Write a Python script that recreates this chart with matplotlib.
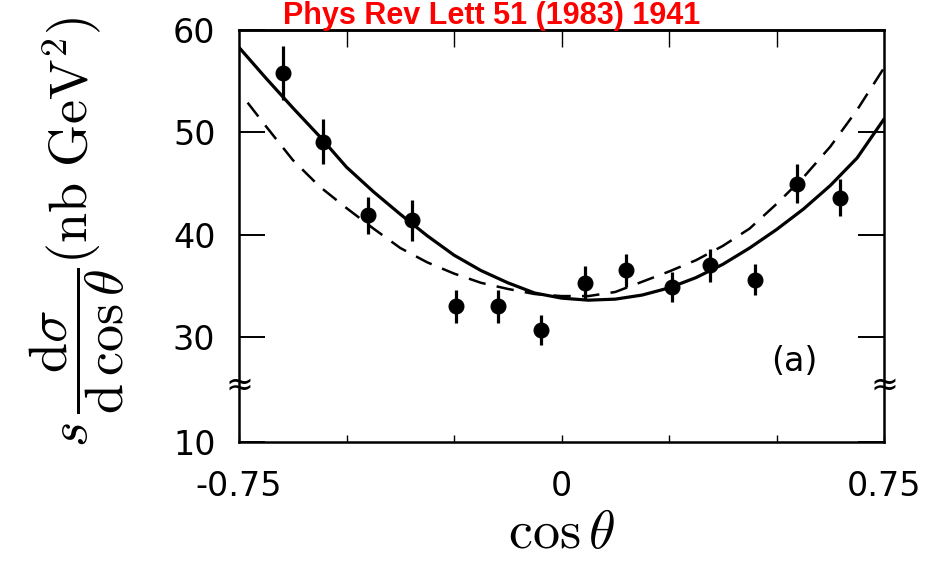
import matplotlib
matplotlib.use("Agg")
import matplotlib.pyplot as plt
from matplotlib.transforms import blended_transform_factory

plt.rcParams['mathtext.fontset'] = 'cm'

# ---- data ----
cos_theta = [-0.648, -0.555, -0.451, -0.347, -0.245, -0.147, -0.048,
             0.055, 0.150, 0.258, 0.346, 0.450, 0.548, 0.648]
xsec = [55.8, 49.1, 41.9, 41.4, 33.0, 33.0, 30.7,
        35.3, 36.5, 34.9, 37.0, 35.6, 45.0, 43.6]
xsec_err = [2.6, 2.2, 1.8, 2.0, 1.6, 1.6, 1.5,
            1.6, 1.6, 1.5, 1.6, 1.5, 1.9, 1.8]

solid_x = [-0.75, -0.6875, -0.625, -0.5625, -0.5, -0.4375, -0.375, -0.3125,
           -0.25, -0.1875, -0.125, -0.0625, 0.0, 0.0625, 0.125, 0.1875,
           0.25, 0.3125, 0.375, 0.4375, 0.5, 0.5625, 0.625, 0.6875, 0.75]
solid_y = [58.3, 55.3, 52.4, 49.6, 46.6, 44.2, 42.0, 39.9,
           38.0, 36.5, 35.3, 34.3, 33.8, 33.6, 33.7, 34.1,
           34.8, 35.8, 37.1, 38.7, 40.5, 42.5, 44.8, 47.5, 51.3]

dashed_x = [-0.73, -0.6875, -0.625, -0.5625, -0.5, -0.4375, -0.375, -0.3125,
            -0.25, -0.1875, -0.125, -0.0625, 0.0, 0.0625, 0.125, 0.1875,
            0.25, 0.3125, 0.375, 0.4375, 0.5, 0.5625, 0.625, 0.6875, 0.75]
dashed_y = [52.9, 50.6, 47.3, 44.7, 42.6, 40.6, 38.7, 37.3,
            36.2, 35.3, 34.7, 34.2, 34.0, 34.0, 34.4, 35.4,
            36.4, 37.5, 38.9, 40.6, 43.0, 45.6, 48.6, 52.2, 56.3]

x_ticks = [-0.75, -0.5, -0.25, 0.0, 0.25, 0.5, 0.75]
x_tick_labels = ["-0.75", "", "", "0", "", "", "0.75"]
y_ticks = [30, 40, 50, 60]
y_tick_labels = ["30", "40", "50", "60"]
y_break_label = "10"
title = "Phys Rev Lett 51 (1983) 1941"
panel = "(a)"

# ---- figure ----
fig = plt.figure(figsize=(9.25, 5.63), dpi=100)
ax = fig.add_axes([0.2584, 0.2149, 0.6973, 0.7318])

ymin, ymax = 19.74, 60.0
ax.set_xlim(-0.75, 0.75)
ax.set_ylim(ymin, ymax)

ax.plot(solid_x, solid_y, color='black', lw=2.3, solid_capstyle='round', zorder=3)
ax.plot(dashed_x, dashed_y, color='black', lw=1.8, dashes=(7, 4.5), zorder=3)
ax.errorbar(cos_theta, xsec, yerr=xsec_err, fmt='o', color='black',
            ms=10.5, elinewidth=2.3, capsize=0, zorder=4)

for s in ax.spines.values():
    s.set_linewidth(1.8)

ax.set_xticks(x_ticks)
ax.set_xticklabels(x_tick_labels)
ax.set_yticks([ymin] + y_ticks)
ax.set_yticklabels([y_break_label] + y_tick_labels)
ax.tick_params(axis='x', direction='in', length=5, width=1.0, pad=20,
               labelsize=24, top=False)
ax.tick_params(axis='y', direction='in', length=19, width=1.4, pad=17,
               labelsize=24, left=True, right=True)

sec = ax.secondary_xaxis('top')
sec.set_xticks(x_ticks[1:-1])
sec.tick_params(direction='in', length=12, width=1.0, labeltop=False)
sec.spines['top'].set_linewidth(1.8)

# axis break marks
tr = blended_transform_factory(ax.transAxes, ax.transData)
for xa in (0.0, 1.0):
    ax.text(xa, 25.3, "\u2248", transform=tr, ha='center', va='center',
            fontsize=24, color='black', clip_on=False)

ax.text(0.542, 27.6, panel, ha='center', va='center', fontsize=24)

ax.set_xlabel(r'$\cos\theta$', fontsize=39, labelpad=3)
fig.text(0.083, 0.588,
         r'$s\,\dfrac{\mathrm{d}\sigma}{\mathrm{d}\,\cos\theta}(\mathrm{nb\ GeV}^2)$',
         rotation=90, fontsize=39, ha='center', va='center')

fig.text(0.531, 0.957, title, color='red', fontweight='bold', fontsize=22,
         family='Liberation Sans', ha='center', va='baseline')

fig.savefig('out.png', dpi=100)
